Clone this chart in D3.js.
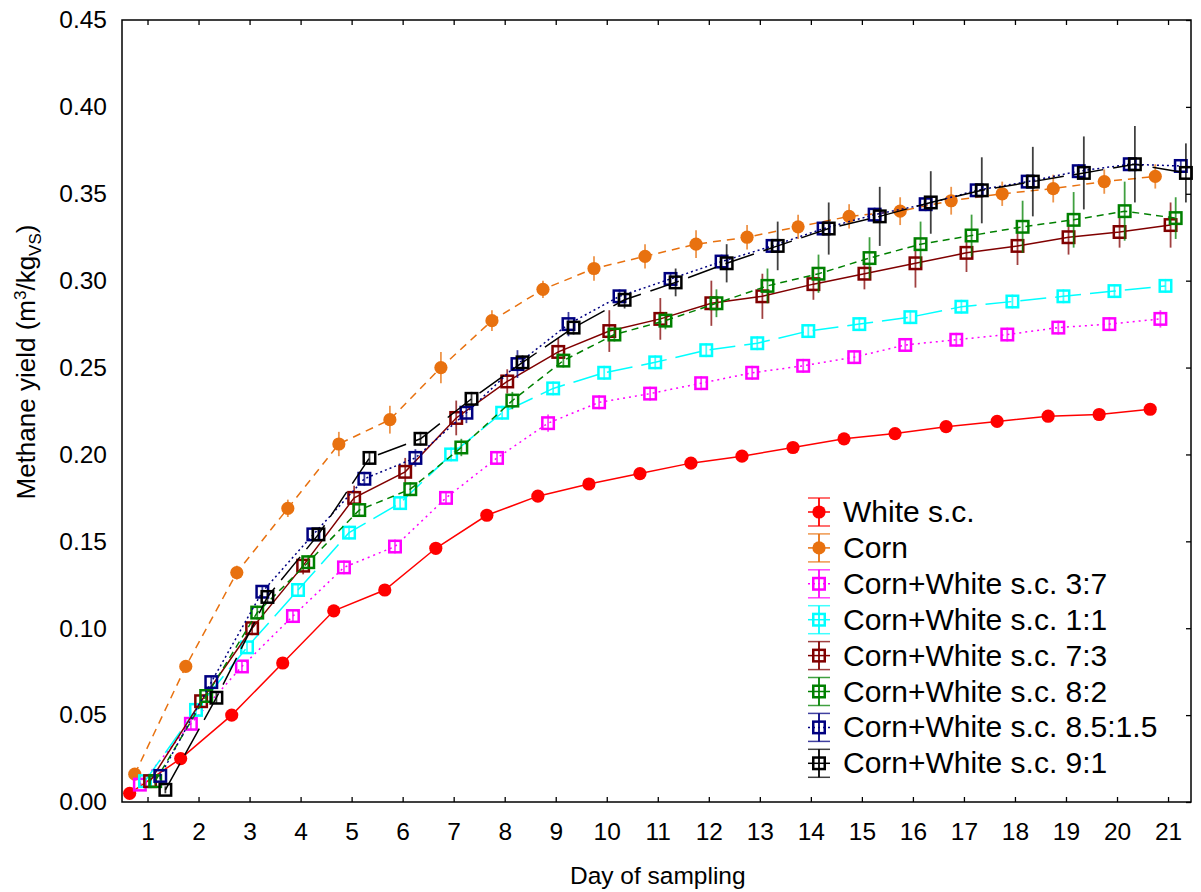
<!DOCTYPE html>
<html>
<head>
<meta charset="utf-8">
<script src="https://cdn.jsdelivr.net/npm/d3@7/dist/d3.min.js"></script>
<style>
    body { margin: 0; background: #fff; }
    text { font-family: "Liberation Sans", Arial, sans-serif; fill: #000; }
</style>
</head>
<body>
<div id="chart"></div>
<script>

// sampling days and series
const days = [1, 2, 3, 4, 5, 6, 7, 8, 9, 10, 11, 12, 13, 14, 15, 16, 17, 18, 19, 20, 21];

const seriesNames = ["White s.c.", "Corn", "Corn+White s.c. 3:7", "Corn+White s.c. 1:1",
    "Corn+White s.c. 7:3", "Corn+White s.c. 8:2", "Corn+White s.c. 8.5:1.5", "Corn+White s.c. 9:1"];

const whiteSC = [0.005, 0.025, 0.050, 0.080, 0.110, 0.122, 0.146, 0.165, 0.176, 0.183, 0.189,
    0.195, 0.199, 0.204, 0.209, 0.212, 0.216, 0.219, 0.222, 0.223, 0.226];
const corn = [0.016, 0.078, 0.132, 0.169, 0.206, 0.220, 0.250, 0.277, 0.295, 0.307, 0.314,
    0.321, 0.325, 0.331, 0.337, 0.340, 0.346, 0.350, 0.353, 0.357, 0.360];
const mix37 = [0.010, 0.045, 0.078, 0.107, 0.135, 0.147, 0.175, 0.198, 0.218, 0.230, 0.235,
    0.241, 0.247, 0.251, 0.256, 0.263, 0.266, 0.269, 0.273, 0.275, 0.278];
const mix11 = [0.012, 0.053, 0.089, 0.122, 0.155, 0.172, 0.200, 0.224, 0.238, 0.247, 0.253,
    0.260, 0.264, 0.271, 0.275, 0.279, 0.285, 0.288, 0.291, 0.294, 0.297];
const mix73 = [0.012, 0.058, 0.100, 0.136, 0.175, 0.190, 0.221, 0.242, 0.259, 0.271, 0.278,
    0.287, 0.291, 0.298, 0.304, 0.310, 0.316, 0.320, 0.325, 0.328, 0.332];
const mix82 = [0.012, 0.061, 0.109, 0.138, 0.168, 0.180, 0.204, 0.231, 0.254, 0.269, 0.277,
    0.287, 0.297, 0.304, 0.313, 0.321, 0.326, 0.331, 0.335, 0.340, 0.336];
const mix8515 = [0.015, 0.069, 0.121, 0.154, 0.186, 0.198, 0.224, 0.252, 0.275, 0.291, 0.301,
    0.311, 0.320, 0.330, 0.338, 0.344, 0.352, 0.357, 0.363, 0.367, 0.366];
const mix91 = [0.007, 0.060, 0.118, 0.154, 0.198, 0.209, 0.232, 0.253, 0.273, 0.289, 0.299,
    0.310, 0.320, 0.330, 0.337, 0.345, 0.352, 0.357, 0.362, 0.367, 0.362];

// half-length of the error bars
const errWhiteSC = [0.002, 0.002, 0.002, 0.002, 0.002, 0.002, 0.002, 0.002, 0.002, 0.002, 0.002,
    0.002, 0.002, 0.002, 0.002, 0.002, 0.002, 0.002, 0.002, 0.002, 0.002];
const errCorn = [0.002, 0.003, 0.004, 0.005, 0.007, 0.008, 0.009, 0.006, 0.005, 0.007, 0.007,
    0.008, 0.007, 0.007, 0.007, 0.008, 0.008, 0.007, 0.008, 0.007, 0.007];
const errMix37 = [0.002, 0.003, 0.003, 0.003, 0.004, 0.004, 0.004, 0.004, 0.005, 0.004, 0.004,
    0.004, 0.004, 0.004, 0.004, 0.004, 0.004, 0.004, 0.004, 0.004, 0.005];
const errMix11 = [0.002, 0.003, 0.003, 0.003, 0.004, 0.004, 0.004, 0.004, 0.004, 0.004, 0.004,
    0.004, 0.004, 0.004, 0.004, 0.004, 0.004, 0.004, 0.004, 0.004, 0.004];
const errMix73 = [0.002, 0.003, 0.004, 0.005, 0.007, 0.008, 0.010, 0.007, 0.008, 0.012, 0.012,
    0.013, 0.013, 0.009, 0.009, 0.014, 0.011, 0.011, 0.010, 0.009, 0.013];
const errMix82 = [0.002, 0.003, 0.004, 0.004, 0.004, 0.004, 0.005, 0.005, 0.004, 0.004, 0.005,
    0.008, 0.010, 0.011, 0.012, 0.013, 0.012, 0.015, 0.016, 0.017, 0.012];
const errMix8515 = [0.002, 0.003, 0.003, 0.003, 0.004, 0.005, 0.006, 0.008, 0.007, 0.004, 0.004,
    0.004, 0.004, 0.004, 0.004, 0.004, 0.004, 0.004, 0.004, 0.004, 0.004];
const errMix91 = [0.002, 0.003, 0.003, 0.003, 0.004, 0.004, 0.004, 0.004, 0.004, 0.005, 0.008,
    0.011, 0.014, 0.015, 0.017, 0.018, 0.019, 0.020, 0.021, 0.022, 0.017];

const yTicks = [0, 0.05, 0.10, 0.15, 0.20, 0.25, 0.30, 0.35, 0.40, 0.45];

const seriesValues = [whiteSC, corn, mix37, mix11, mix73, mix82, mix8515, mix91];
const seriesErrors = [errWhiteSC, errCorn, errMix37, errMix11, errMix73, errMix82, errMix8515, errMix91];

// look of each series
const colors = ["#ff0000", "#e8710f", "#ff00ff", "#00ffff", "#800000", "#008000", "#000080", "#000000"];
const dashes = [null, "8,6", "2,4", "26,9", null, "7,5", "2,3", "30,10"];
const markers = ["circle", "circle", "square", "square", "square", "square", "square", "square"];


class MethaneChart {

    constructor(parentElement, width, height) {
        this.parentElement = parentElement;
        this.baseWidth = width;
        this.baseHeight = height;

        this.initVis();
    }

    initVis() {
        let vis = this;

        vis.margin = {top: 20, right: 10, bottom: 90, left: 122};
        vis.width = 1191 - vis.margin.left;
        vis.height = 802 - vis.margin.top;

        vis.svg = d3.select("#" + vis.parentElement).append("svg")
            .attr("width", vis.baseWidth)
            .attr("height", vis.baseHeight)
            .append("g")
            .attr("transform", "translate(" + vis.margin.left + "," + vis.margin.top + ")");

        vis.x = d3.scaleLinear()
            .domain([0.5, 21.45])
            .range([0, vis.width]);

        vis.y = d3.scaleLinear()
            .domain([0, 0.45])
            .range([vis.height, 0]);

        vis.wrangleData();
    }

    wrangleData() {
        let vis = this;

        // each series is shifted a little around the day so they don't overlap
        vis.displayData = seriesValues.map((vals, i) => ({
            name: seriesNames[i],
            offset: -0.35 + 0.1 * i,
            color: colors[i],
            dash: dashes[i],
            marker: markers[i],
            points: vals.map((v, j) => ({day: days[j], value: v, err: seriesErrors[i][j]}))
        }));

        vis.updateVis();
    }

    updateVis() {
        let vis = this;

        // axes, ticks pointing inwards
        vis.svg.append("g")
            .attr("class", "x-axis")
            .attr("transform", "translate(0," + vis.height + ")")
            .call(d3.axisBottom(vis.x).tickValues(days).tickFormat(d3.format("d"))
                .tickSizeInner(-5).tickSizeOuter(0).tickPadding(21));

        vis.svg.append("g")
            .call(d3.axisTop(vis.x).tickValues(days).tickFormat("")
                .tickSizeInner(-5).tickSizeOuter(0));

        vis.svg.append("g")
            .attr("class", "y-axis")
            .call(d3.axisLeft(vis.y).tickValues(yTicks).tickFormat(d3.format(".2f"))
                .tickSize(0).tickPadding(15));

        vis.svg.append("g")
            .attr("transform", "translate(" + vis.width + ",0)")
            .call(d3.axisRight(vis.y).tickValues(yTicks).tickFormat("")
                .tickSizeInner(-5).tickSizeOuter(0));

        vis.svg.selectAll(".domain").remove();
        vis.svg.selectAll(".tick line").attr("stroke", "#000").attr("stroke-width", 1.3);
        vis.svg.selectAll(".x-axis text, .y-axis text")
            .style("font-size", "24.5px")
            .style("font-family", "'Liberation Sans', Arial, sans-serif");

        vis.svg.append("rect")
            .attr("x", 0)
            .attr("y", 0)
            .attr("width", vis.width)
            .attr("height", vis.height)
            .attr("fill", "none")
            .attr("stroke", "#000")
            .attr("stroke-width", 1.5);

        // axis titles
        vis.svg.append("text")
            .attr("x", vis.x(11))
            .attr("y", vis.height + 82)
            .attr("text-anchor", "middle")
            .style("font-size", "24.5px")
            .text("Day of sampling");

        let yLabel = vis.svg.append("text")
            .attr("transform", "translate(" + (-87) + "," + (342) + ") rotate(-90)")
            .attr("text-anchor", "middle")
            .style("font-size", "26px");
        yLabel.append("tspan").text("Methane yield (m");
        yLabel.append("tspan").attr("dy", -9).style("font-size", "17px").text("3");
        yLabel.append("tspan").attr("dy", 9).text("/kg");
        yLabel.append("tspan").attr("dy", 6).style("font-size", "17px").text("VS");
        yLabel.append("tspan").attr("dy", -6).text(")");

        let line = d3.line()
            .x(d => d.px)
            .y(d => vis.y(d.value));

        vis.displayData.forEach(s => {
            s.points.forEach(p => { p.px = vis.x(p.day + s.offset); });

            let g = vis.svg.append("g");

            g.append("path")
                .datum(s.points)
                .attr("d", line)
                .attr("fill", "none")
                .attr("stroke", s.color)
                .attr("stroke-width", 1.5)
                .attr("stroke-dasharray", s.dash);

            g.selectAll(".err")
                .data(s.points)
                .enter().append("line")
                .attr("x1", d => d.px)
                .attr("x2", d => d.px)
                .attr("y1", d => vis.y(d.value - d.err))
                .attr("y2", d => vis.y(d.value + d.err))
                .attr("stroke", s.color)
                .attr("stroke-opacity", 0.75)
                .attr("stroke-width", 1.8);

            vis.drawMarkers(g, s, s.points);
        });

        vis.drawLegend();
    }

    drawMarkers(g, s, pts) {
        let vis = this;
        if (s.marker === "circle") {
            g.selectAll(".mk")
                .data(pts)
                .enter().append("circle")
                .attr("cx", d => d.px)
                .attr("cy", d => d.py !== undefined ? d.py : vis.y(d.value))
                .attr("r", 6.6)
                .attr("fill", s.color);
        } else {
            let side = 11.5;
            g.selectAll(".mk")
                .data(pts)
                .enter().append("rect")
                .attr("x", d => d.px - side / 2)
                .attr("y", d => (d.py !== undefined ? d.py : vis.y(d.value)) - side / 2)
                .attr("width", side)
                .attr("height", side)
                .attr("fill", "none")
                .attr("stroke", s.color)
                .attr("stroke-width", 2.5);
        }
    }

    drawLegend() {
        let vis = this;

        let lg = vis.svg.append("g")
            .attr("transform", "translate(" + (819 - vis.margin.left) + "," + (512 - vis.margin.top) + ")");

        vis.displayData.forEach((s, i) => {
            let row = lg.append("g").attr("transform", "translate(0," + i * 35.9 + ")");

            row.append("line")
                .attr("x1", -11).attr("x2", 11)
                .attr("stroke", s.color).attr("stroke-width", 1.5)
                .attr("stroke-dasharray", s.dash === "2,4" || s.dash === "2,3" ? "2,3" : null);

            [-14, 14].forEach(cy => {
                row.append("line")
                    .attr("x1", -11).attr("x2", 11)
                    .attr("y1", cy).attr("y2", cy)
                    .attr("stroke", s.color).attr("stroke-opacity", 0.75).attr("stroke-width", 1.5);
            });
            row.append("line")
                .attr("y1", -14).attr("y2", 14)
                .attr("stroke", s.color).attr("stroke-width", 1.8);

            vis.drawMarkers(row, s, [{px: 0, py: 0}]);

            row.append("text")
                .attr("x", 24)
                .attr("y", 10)
                .style("font-size", "30px")
                .text(s.name);
        });
    }
}

new MethaneChart("chart", 1201, 892);

</script>
</body>
</html>
